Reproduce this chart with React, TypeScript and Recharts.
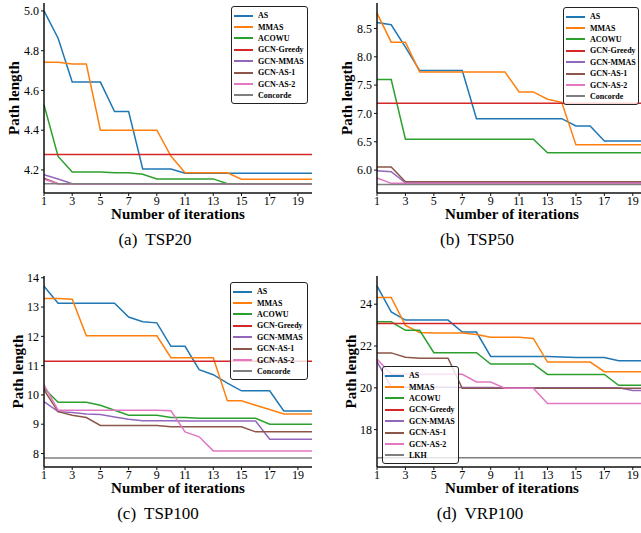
import React from 'react';
import { LineChart, Line, XAxis, YAxis, Legend, Label } from 'recharts';

// ---------- shared ----------
const iterations = [1, 2, 3, 4, 5, 6, 7, 8, 9, 10, 11, 12, 13, 14, 15, 16, 17, 18, 19, 20];
const xTicks = [1, 3, 5, 7, 9, 11, 13, 15, 17, 19];
const colors: Record<string, string> = {
  AS: '#1f77b4',
  MMAS: '#ff7f0e',
  ACOWU: '#2ca02c',
  'GCN-Greedy': '#d62728',
  'GCN-MMAS': '#9467bd',
  'GCN-AS-1': '#8c564b',
  'GCN-AS-2': '#e377c2',
  Concorde: '#7f7f7f',
  LKH: '#7f7f7f',
};

// ---------- (a) TSP20 ----------
const tsp20AS = [5.0, 4.863, 4.642, 4.642, 4.642, 4.494, 4.494, 4.205, 4.205, 4.205, 4.183, 4.183, 4.183, 4.183, 4.183, 4.183, 4.183, 4.183, 4.183, 4.183];
const tsp20MMAS = [4.742, 4.742, 4.733, 4.733, 4.4, 4.4, 4.4, 4.4, 4.4, 4.27, 4.186, 4.186, 4.186, 4.186, 4.153, 4.153, 4.153, 4.153, 4.153, 4.153];
const tsp20ACOWU = [4.528, 4.268, 4.19, 4.19, 4.19, 4.186, 4.186, 4.178, 4.155, 4.155, 4.155, 4.155, 4.155, 4.131, 4.131, 4.131, 4.131, 4.131, 4.131, 4.131];
const tsp20Greedy = 4.278;
const tsp20GcnMMAS = [4.176, 4.154, 4.131, 4.131, 4.131, 4.131, 4.131, 4.131, 4.131, 4.131, 4.131, 4.131, 4.131, 4.131, 4.131, 4.131, 4.131, 4.131, 4.131, 4.131];
const tsp20GcnAS1 = [4.159, 4.131, 4.131, 4.131, 4.131, 4.131, 4.131, 4.131, 4.131, 4.131, 4.131, 4.131, 4.131, 4.131, 4.131, 4.131, 4.131, 4.131, 4.131, 4.131];
const tsp20GcnAS2 = [4.153, 4.131, 4.131, 4.131, 4.131, 4.131, 4.131, 4.131, 4.131, 4.131, 4.131, 4.131, 4.131, 4.131, 4.131, 4.131, 4.131, 4.131, 4.131, 4.131];
const tsp20Concorde = 4.131;
const tsp20YTicks = [4.2, 4.4, 4.6, 4.8, 5.0];

// ---------- (b) TSP50 ----------
const tsp50AS = [8.606, 8.565, 8.17, 7.757, 7.757, 7.757, 7.757, 6.908, 6.908, 6.908, 6.908, 6.908, 6.908, 6.908, 6.78, 6.78, 6.513, 6.513, 6.513, 6.513];
const tsp50MMAS = [8.77, 8.258, 8.258, 7.733, 7.733, 7.733, 7.733, 7.733, 7.733, 7.733, 7.38, 7.38, 7.25, 7.197, 6.445, 6.445, 6.445, 6.445, 6.445, 6.445];
const tsp50ACOWU = [7.598, 7.598, 6.545, 6.545, 6.545, 6.545, 6.545, 6.545, 6.545, 6.545, 6.545, 6.545, 6.305, 6.305, 6.305, 6.305, 6.305, 6.305, 6.305, 6.305];
const tsp50Greedy = 7.18;
const tsp50GcnMMAS = [5.99, 5.97, 5.775, 5.775, 5.775, 5.775, 5.775, 5.775, 5.775, 5.775, 5.775, 5.775, 5.775, 5.775, 5.775, 5.775, 5.775, 5.775, 5.775, 5.775];
const tsp50GcnAS1 = [6.055, 6.055, 5.795, 5.795, 5.795, 5.795, 5.795, 5.795, 5.795, 5.795, 5.795, 5.795, 5.795, 5.795, 5.795, 5.795, 5.795, 5.795, 5.795, 5.795];
const tsp50GcnAS2 = [5.86, 5.765, 5.765, 5.765, 5.765, 5.765, 5.765, 5.765, 5.765, 5.765, 5.765, 5.765, 5.765, 5.765, 5.765, 5.765, 5.765, 5.765, 5.765, 5.765];
const tsp50Concorde = 5.746;
const tsp50YTicks = [6.0, 6.5, 7.0, 7.5, 8.0, 8.5];

// ---------- (c) TSP100 ----------
const tsp100AS = [13.71, 13.13, 13.13, 13.13, 13.13, 13.13, 12.66, 12.5, 12.46, 11.66, 11.66, 10.86, 10.69, 10.4, 10.14, 10.14, 10.14, 9.45, 9.45, 9.45];
const tsp100MMAS = [13.29, 13.29, 13.27, 12.02, 12.02, 12.02, 12.02, 12.02, 12.02, 11.27, 11.27, 11.27, 11.27, 9.8, 9.8, 9.65, 9.5, 9.35, 9.35, 9.35];
const tsp100ACOWU = [10.23, 9.75, 9.75, 9.75, 9.65, 9.48, 9.31, 9.31, 9.31, 9.23, 9.23, 9.2, 9.2, 9.2, 9.2, 9.2, 9.0, 9.0, 9.0, 9.0];
const tsp100Greedy = 11.15;
const tsp100GcnMMAS = [9.77, 9.43, 9.4, 9.35, 9.33, 9.25, 9.17, 9.12, 9.12, 9.12, 9.11, 9.11, 9.11, 9.11, 9.11, 9.11, 8.49, 8.49, 8.49, 8.49];
const tsp100GcnAS1 = [10.17, 9.43, 9.31, 9.23, 8.96, 8.96, 8.96, 8.96, 8.96, 8.91, 8.91, 8.91, 8.91, 8.91, 8.91, 8.74, 8.74, 8.74, 8.74, 8.74];
const tsp100GcnAS2 = [10.34, 9.48, 9.48, 9.48, 9.48, 9.48, 9.48, 9.48, 9.48, 9.46, 8.74, 8.57, 8.09, 8.09, 8.09, 8.09, 8.09, 8.09, 8.09, 8.09];
const tsp100Concorde = 7.85;
const tsp100YTicks = [8, 9, 10, 11, 12, 13, 14];

// ---------- (d) VRP100 ----------
const vrp100AS = [24.88, 23.63, 23.24, 23.24, 23.24, 23.24, 22.67, 22.67, 21.5, 21.5, 21.5, 21.5, 21.5, 21.47, 21.45, 21.45, 21.45, 21.3, 21.3, 21.3];
const vrp100MMAS = [24.32, 24.32, 22.99, 22.65, 22.62, 22.62, 22.62, 22.55, 22.42, 22.42, 22.42, 22.36, 21.23, 21.23, 21.23, 21.23, 20.77, 20.77, 20.77, 20.77];
const vrp100ACOWU = [23.16, 23.16, 22.75, 22.75, 21.68, 21.68, 21.68, 21.68, 21.14, 21.14, 21.14, 21.14, 20.64, 20.64, 20.64, 20.64, 20.64, 20.12, 20.12, 20.12];
const vrp100Greedy = 23.08;
const vrp100GcnMMAS = [21.25, 20.03, 20.03, 20.03, 20.03, 20.03, 20.02, 20.02, 20.02, 20.0, 20.0, 20.0, 20.0, 20.0, 20.0, 20.0, 20.0, 20.0, 19.87, 19.87];
const vrp100GcnAS1 = [21.67, 21.67, 21.46, 21.42, 21.42, 21.42, 19.98, 19.98, 19.98, 19.98, 19.98, 19.98, 19.98, 19.98, 19.98, 19.98, 19.98, 19.98, 19.98, 19.98];
const vrp100GcnAS2 = [21.38, 20.65, 20.65, 20.65, 20.65, 20.65, 20.65, 20.28, 20.28, 19.98, 19.98, 19.98, 19.25, 19.25, 19.25, 19.25, 19.25, 19.25, 19.25, 19.25];
const vrp100LKH = 16.65;
const vrp100YTicks = [18, 20, 22, 24];

type Series = { name: string; values: number[] | number };

function buildRows(series: Series[]) {
  return iterations.map((it, i) => {
    const row: Record<string, number> = { it };
    series.forEach((s) => {
      row[s.name] = Array.isArray(s.values) ? s.values[i] : s.values;
    });
    return row;
  });
}

const serif = '"Liberation Serif", "Times New Roman", Times, serif';
const tickStyle = { fontFamily: serif, fontSize: 12, fill: '#000' };
const titleStyle: React.CSSProperties = { fontFamily: serif, fontSize: 15, fontWeight: 700, fill: '#000' };

const LegendBox = (props: any) => {
  const items: Series[] = props.items || [];
  return (
    <div
      style={{
        border: '1px solid #222',
        borderRadius: 3,
        background: 'rgba(255,255,255,0.8)',
        padding: '3px 2px 2px 2px',
        boxSizing: 'border-box',
      }}
    >
      {items.map((s) => (
        <div key={s.name} style={{ display: 'flex', alignItems: 'center', height: 11.4 }}>
          <div style={{ width: 19, height: 2, background: colors[s.name], marginRight: 5, flexShrink: 0 }} />
          <span
            style={{
              fontFamily: serif,
              fontSize: 8,
              fontWeight: 700,
              color: '#000',
              whiteSpace: 'nowrap',
              lineHeight: '11px',
            }}
          >
            {s.name}
          </span>
        </div>
      ))}
    </div>
  );
};

type PanelProps = {
  series: Series[];
  yDomain: [number, number];
  yTicks: number[];
  decimals: number;
  width: number;
  marginTop: number;
  plotHeight: number;
  yAxisWidth: number;
  yTitleX: number;
  legendPos: { left: number; top: number; width: number };
};

function Panel({ series, yDomain, yTicks, decimals, width, marginTop, plotHeight, yAxisWidth, yTitleX, legendPos }: PanelProps) {
  const rows = buildRows(series);
  const xAxisHeight = 28;
  const height = marginTop + plotHeight + xAxisHeight;
  const yCenter = marginTop + plotHeight / 2;
  return (
    <LineChart
      width={width}
      height={height}
      data={rows}
      margin={{ top: marginTop, right: 2, bottom: 0, left: 0 }}
      style={{ overflow: 'visible' }}
    >
      <XAxis
        dataKey="it"
        type="number"
        domain={[1, 20]}
        ticks={xTicks}
        height={xAxisHeight}
        interval={0}
        tick={tickStyle}
        tickSize={3}
        tickMargin={0}
        axisLine={{ stroke: '#111', strokeWidth: 1.5 }}
        tickLine={{ stroke: '#111' }}
      >
        <Label
          content={() => (
            <text x={yAxisWidth + (width - 2 - yAxisWidth) / 2} y={marginTop + plotHeight + 26} textAnchor="middle" style={titleStyle}>
              Number of iterations
            </text>
          )}
        />
      </XAxis>
      <XAxis
        xAxisId="top"
        orientation="top"
        dataKey="it"
        type="number"
        domain={[1, 20]}
        height={0}
        tick={false}
        tickLine={false}
        axisLine={{ stroke: '#111', strokeWidth: 1.5 }}
      />
      <YAxis
        type="number"
        domain={yDomain}
        allowDataOverflow
        ticks={yTicks}
        interval={0}
        width={yAxisWidth}
        tick={tickStyle}
        tickSize={3}
        tickMargin={2}
        tickFormatter={(v: number) => v.toFixed(decimals)}
        axisLine={{ stroke: '#111', strokeWidth: 1.5 }}
        tickLine={{ stroke: '#111' }}
      >
        <Label
          content={() => (
            <text
              x={yTitleX}
              y={yCenter}
              textAnchor="middle"
              dominantBaseline="central"
              transform={`rotate(-90, ${yTitleX}, ${yCenter})`}
              style={titleStyle}
            >
              Path length
            </text>
          )}
        />
      </YAxis>
      <YAxis
        yAxisId="right"
        orientation="right"
        type="number"
        domain={yDomain}
        width={0}
        tick={false}
        tickLine={false}
        axisLine={{ stroke: '#111', strokeWidth: 1.5 }}
      />
      <Legend
        layout="vertical"
        align="center"
        verticalAlign="middle"
        content={<LegendBox items={series} />}
        wrapperStyle={{ left: legendPos.left, top: legendPos.top, width: legendPos.width, right: 'auto', bottom: 'auto' }}
      />
      {series.map((s) => (
        <Line
          key={s.name}
          type="linear"
          dataKey={s.name}
          name={s.name}
          stroke={colors[s.name]}
          strokeWidth={1.5}
          dot={false}
          activeDot={false}
          isAnimationActive={false}
        />
      ))}
    </LineChart>
  );
}

const captionStyle: React.CSSProperties = {
  position: 'absolute',
  fontFamily: serif,
  fontSize: 17,
  color: '#000',
  wordSpacing: 4,
  whiteSpace: 'nowrap',
  transform: 'translate(-50%, -50%)',
};

export default function App() {
  return (
    <div style={{ position: 'fixed', left: 0, top: 0, width: 641, height: 533, overflow: 'hidden', background: '#fff' }}>
      <div style={{ position: 'absolute', left: 0, top: 0, width: 314 }}>
        <Panel
          series={[
            { name: 'AS', values: tsp20AS },
            { name: 'MMAS', values: tsp20MMAS },
            { name: 'ACOWU', values: tsp20ACOWU },
            { name: 'GCN-Greedy', values: tsp20Greedy },
            { name: 'GCN-MMAS', values: tsp20GcnMMAS },
            { name: 'GCN-AS-1', values: tsp20GcnAS1 },
            { name: 'GCN-AS-2', values: tsp20GcnAS2 },
            { name: 'Concorde', values: tsp20Concorde },
          ]}
          yDomain={[4.084, 5.04]}
          yTicks={tsp20YTicks}
          decimals={1}
          width={314}
          marginTop={3}
          plotHeight={190}
          yAxisWidth={44}
          yTitleX={14}
          legendPos={{ left: 231, top: 6, width: 77 }}
        />
      </div>
      <div style={{ position: 'absolute', left: 320, top: 0, width: 329 }}>
        <Panel
          series={[
            { name: 'AS', values: tsp50AS },
            { name: 'MMAS', values: tsp50MMAS },
            { name: 'ACOWU', values: tsp50ACOWU },
            { name: 'GCN-Greedy', values: tsp50Greedy },
            { name: 'GCN-MMAS', values: tsp50GcnMMAS },
            { name: 'GCN-AS-1', values: tsp50GcnAS1 },
            { name: 'GCN-AS-2', values: tsp50GcnAS2 },
            { name: 'Concorde', values: tsp50Concorde },
          ]}
          yDomain={[5.595, 8.95]}
          yTicks={tsp50YTicks}
          decimals={1}
          width={329}
          marginTop={3}
          plotHeight={190}
          yAxisWidth={57}
          yTitleX={26.5}
          legendPos={{ left: 243, top: 7, width: 76 }}
        />
      </div>
      <div style={{ position: 'absolute', left: 0, top: 263, width: 314 }}>
        <Panel
          series={[
            { name: 'AS', values: tsp100AS },
            { name: 'MMAS', values: tsp100MMAS },
            { name: 'ACOWU', values: tsp100ACOWU },
            { name: 'GCN-Greedy', values: tsp100Greedy },
            { name: 'GCN-MMAS', values: tsp100GcnMMAS },
            { name: 'GCN-AS-1', values: tsp100GcnAS1 },
            { name: 'GCN-AS-2', values: tsp100GcnAS2 },
            { name: 'Concorde', values: tsp100Concorde },
          ]}
          yDomain={[7.54, 14.06]}
          yTicks={tsp100YTicks}
          decimals={0}
          width={314}
          marginTop={13}
          plotHeight={191}
          yAxisWidth={44}
          yTitleX={18}
          legendPos={{ left: 230, top: 19, width: 78 }}
        />
      </div>
      <div style={{ position: 'absolute', left: 320, top: 263, width: 329 }}>
        <Panel
          series={[
            { name: 'AS', values: vrp100AS },
            { name: 'MMAS', values: vrp100MMAS },
            { name: 'ACOWU', values: vrp100ACOWU },
            { name: 'GCN-Greedy', values: vrp100Greedy },
            { name: 'GCN-MMAS', values: vrp100GcnMMAS },
            { name: 'GCN-AS-1', values: vrp100GcnAS1 },
            { name: 'GCN-AS-2', values: vrp100GcnAS2 },
            { name: 'LKH', values: vrp100LKH },
          ]}
          yDomain={[16.21, 25.35]}
          yTicks={vrp100YTicks}
          decimals={0}
          width={329}
          marginTop={13}
          plotHeight={191}
          yAxisWidth={57}
          yTitleX={31}
          legendPos={{ left: 62, top: 103, width: 77 }}
        />
      </div>
      <div style={{ ...captionStyle, left: 155, top: 240 }}>(a) TSP20</div>
      <div style={{ ...captionStyle, left: 477, top: 240 }}>(b) TSP50</div>
      <div style={{ ...captionStyle, left: 158, top: 514 }}>(c) TSP100</div>
      <div style={{ ...captionStyle, left: 480, top: 514 }}>(d) VRP100</div>
    </div>
  );
}
